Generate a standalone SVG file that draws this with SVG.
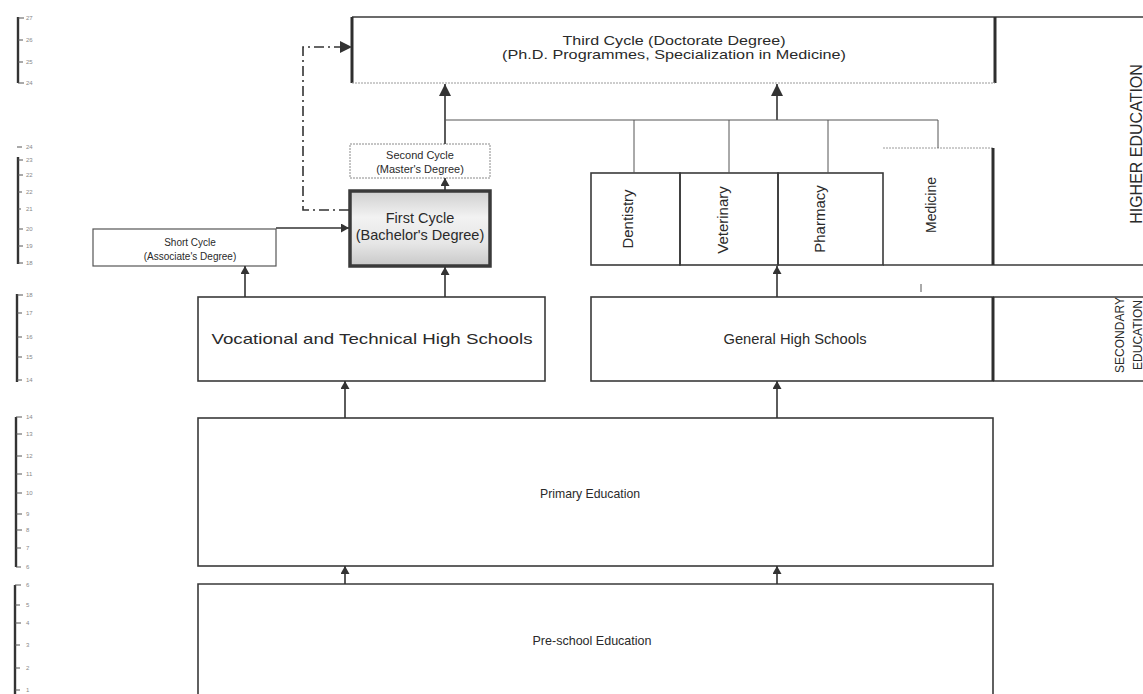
<svg xmlns="http://www.w3.org/2000/svg" width="1143" height="694" viewBox="0 0 1143 694">
<defs>
<style>
.box{fill:none;stroke:#3a3a3a;stroke-width:1.6}
.thick{stroke:#2e2e2e;stroke-width:3;fill:none}
.thin{stroke:#555;stroke-width:1;fill:none}
.faint{stroke:#9a9a9a;stroke-width:1;fill:none;stroke-dasharray:2 1}
.conn{stroke:#333;stroke-width:1.6;fill:none}
.t{font-family:"Liberation Sans",Arial,sans-serif;fill:#2a2a2a;text-anchor:middle}
.sc{font-family:"Liberation Sans",Arial,sans-serif;fill:#888;font-size:6px}
.scl{stroke:#333;stroke-width:2.4;fill:none}
.tk{stroke:#555;stroke-width:1;fill:none}
</style>
<marker id="big" markerUnits="userSpaceOnUse" markerWidth="14" markerHeight="12" refX="12" refY="6" orient="auto">
<path d="M0,0 L12,6 L0,12 Z" fill="#333"/>
</marker>
<marker id="sm" markerUnits="userSpaceOnUse" markerWidth="10" markerHeight="10" refX="8" refY="4.5" orient="auto">
<path d="M0,0 L8,4.5 L0,9 Z" fill="#333"/>
</marker>
<linearGradient id="grad" x1="0" y1="0" x2="0" y2="1">
<stop offset="0" stop-color="#cfcfcf"/>
<stop offset="0.35" stop-color="#f2f2f2"/>
<stop offset="0.7" stop-color="#e6e6e6"/>
<stop offset="1" stop-color="#c8c8c8"/>
</linearGradient>
</defs>
<rect width="1143" height="694" fill="#ffffff"/>

<g id="age-scale">
<path class="scl" d="M18,17 V83"/>
<path class="tk" d="M18,18 H24 M18,40 H23 M18,62 H23 M18,83 H24"/>
<text class="sc" x="26" y="20">27</text><text class="sc" x="26" y="42">26</text><text class="sc" x="26" y="64">25</text><text class="sc" x="26" y="85">24</text>
<path class="scl" d="M18,157 V264"/>
<path class="tk" d="M17,147 H22 M18,160 H23 M18,175 H23 M18,192 H22 M18,209 H21 M18,229 H23 M18,246 H23 M18,263 H23"/>
<text class="sc" x="26" y="149">24</text><text class="sc" x="26" y="162">23</text><text class="sc" x="26" y="177">22</text><text class="sc" x="26" y="194">22</text><text class="sc" x="26" y="211">21</text><text class="sc" x="26" y="231">20</text><text class="sc" x="26" y="248">19</text><text class="sc" x="26" y="265">18</text>
<path class="scl" d="M17,294 V382"/>
<path class="tk" d="M17,295 H23 M17,313 H22 M17,337 H22 M17,357 H22 M17,380 H22"/>
<text class="sc" x="26" y="297">18</text><text class="sc" x="26" y="315">17</text><text class="sc" x="26" y="339">16</text><text class="sc" x="26" y="359">15</text><text class="sc" x="26" y="382">14</text>
<path class="scl" d="M16,417 V567"/>
<path class="tk" d="M16,417 H22 M16,434 H22 M16,456 H22 M16,474 H22 M16,493 H22 M16,514 H22 M16,530 H22 M16,548 H21 M16,567 H21"/>
<text class="sc" x="26" y="419">14</text><text class="sc" x="26" y="436">13</text><text class="sc" x="26" y="458">12</text><text class="sc" x="26" y="476">11</text><text class="sc" x="26" y="495">10</text><text class="sc" x="26" y="516">9</text><text class="sc" x="26" y="532">8</text><text class="sc" x="26" y="550">7</text><text class="sc" x="26" y="569">6</text>
<path class="scl" d="M15,585 V694"/>
<path class="tk" d="M15,585 H21 M15,605 H20 M15,623 H21 M15,645 H20 M15,668 H20 M15,690 H20"/>
<text class="sc" x="26" y="587">6</text><text class="sc" x="26" y="607">5</text><text class="sc" x="26" y="625">4</text><text class="sc" x="26" y="647">3</text><text class="sc" x="26" y="670">2</text><text class="sc" x="26" y="692">1</text>
</g>

<g id="third-cycle">
<path class="box" d="M352,17 H1143"/>
<path class="thick" d="M352,17 V83"/>
<path class="thick" d="M995,17 V83"/>
<path class="faint" d="M352,83 H995"/>
<text class="t" x="674" y="45" font-size="13" textLength="223" lengthAdjust="spacingAndGlyphs">Third Cycle (Doctorate Degree)</text>
<text class="t" x="674" y="59" font-size="13" textLength="344" lengthAdjust="spacingAndGlyphs">(Ph.D. Programmes, Specialization in Medicine)</text>
</g>

<g id="higher-education-label">
<path class="box" d="M993,265 H1143"/>
<text class="t" x="0" y="0" font-size="16" transform="translate(1142,144) rotate(-90)">HIGHER EDUCATION</text>
</g>

<g id="second-cycle">
<rect x="350" y="144" width="140" height="34" fill="#fff" stroke="#8a8a8a" stroke-width="1" stroke-dasharray="2 1"/>
<text class="t" x="420" y="159" font-size="11">Second Cycle</text>
<text class="t" x="420" y="173" font-size="11">(Master's Degree)</text>
</g>

<g id="first-cycle">
<rect x="350" y="191" width="140" height="75" fill="url(#grad)" stroke="#3a3a3a" stroke-width="3.5"/>
<text class="t" x="420" y="223" font-size="14.5">First Cycle</text>
<text class="t" x="420" y="240" font-size="14.5">(Bachelor's Degree)</text>
</g>

<g id="short-cycle">
<rect x="93" y="229" width="183" height="37" fill="#fff" stroke="#555" stroke-width="1.2"/>
<text class="t" x="190" y="246" font-size="10">Short Cycle</text>
<text class="t" x="190" y="260" font-size="10">(Associate's Degree)</text>
</g>

<g id="dentistry">
<rect x="591" y="173" width="89" height="92" class="box"/>
<text class="t" font-size="15" transform="translate(633,219) rotate(-90)">Dentistry</text>
</g>
<g id="veterinary">
<rect x="680" y="173" width="98" height="92" class="box"/>
<text class="t" font-size="15" transform="translate(728,220) rotate(-90)">Veterinary</text>
</g>
<g id="pharmacy">
<rect x="778" y="173" width="105" height="92" class="box"/>
<text class="t" font-size="15" transform="translate(825,219) rotate(-90)">Pharmacy</text>
</g>
<g id="medicine">
<path class="faint" d="M883,148 H993"/>
<path class="box" d="M883,265 H993"/>
<path class="thick" d="M993,148 V265"/>
<text class="t" font-size="14" transform="translate(936,205) rotate(-90)">Medicine</text>
</g>

<g id="vocational-high-schools">
<rect x="198" y="297" width="347" height="84" class="box"/>
<text class="t" x="372" y="344" font-size="15" textLength="321" lengthAdjust="spacingAndGlyphs">Vocational and  Technical High Schools</text>
</g>

<g id="general-high-schools">
<rect x="591" y="297" width="402" height="84" class="box"/>
<text class="t" x="795" y="344" font-size="14" textLength="143" lengthAdjust="spacingAndGlyphs">General High Schools</text>
</g>

<g id="secondary-education-label">
<path class="box" d="M993,297 H1143 M993,381 H1143"/>
<path class="thick" d="M993,297 V381"/>
<text class="t" font-size="12" transform="translate(1124,335) rotate(-90)">SECONDARY</text>
<text class="t" font-size="12" transform="translate(1142,335) rotate(-90)">EDUCATION</text>
</g>

<g id="primary-education">
<rect x="198" y="418" width="795" height="148" class="box"/>
<text class="t" x="590" y="498" font-size="13" textLength="100" lengthAdjust="spacingAndGlyphs">Primary Education</text>
</g>

<g id="pre-school-education">
<path class="box" d="M198,694 V584 H993 V694"/>
<text class="t" x="592" y="645" font-size="13" textLength="119" lengthAdjust="spacingAndGlyphs">Pre-school Education</text>
</g>

<g id="connectors">
<path class="conn" d="M445,144 V84" marker-end="url(#big)" stroke-width="2.2"/>
<path class="conn" d="M777,120 V84" marker-end="url(#big)" stroke-width="2.2"/>
<path class="thin" d="M445,120 H938 V148"/>
<path class="thin" d="M634,120 V173 M729,120 V173 M828,120 V173"/>
<path class="conn" d="M445,190 V178" marker-end="url(#sm)"/>
<path class="conn" d="M276,228 H349" marker-end="url(#sm)"/>
<path class="conn" d="M349,210 H303 V47 H352" stroke-dasharray="10 4 2 4" marker-end="url(#big)"/>
<path class="conn" d="M245,297 V266" marker-end="url(#sm)"/>
<path class="conn" d="M445,297 V267" marker-end="url(#sm)"/>
<path class="conn" d="M777,297 V266" marker-end="url(#sm)"/>
<path class="thin" d="M921,284 V292"/>
<path class="conn" d="M345,418 V381" marker-end="url(#sm)"/>
<path class="conn" d="M777,418 V381" marker-end="url(#sm)"/>
<path class="conn" d="M345,584 V566" marker-end="url(#sm)"/>
<path class="conn" d="M777,584 V566" marker-end="url(#sm)"/>
</g>
</svg>
